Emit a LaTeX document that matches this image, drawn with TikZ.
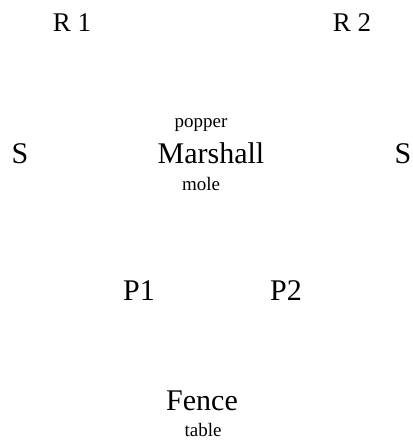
\documentclass[tikz,border=0pt]{standalone}
\usepackage{fontspec}
\setmainfont{Liberation Serif}
\begin{document}
\begin{tikzpicture}[x=1pt,y=-1pt,
  big/.style={inner sep=0pt,anchor=base,font=\fontsize{30}{33}\selectfont},
  rlab/.style={inner sep=0pt,anchor=base,font=\fontsize{27}{30}\selectfont},
  small/.style={inner sep=0pt,anchor=base,font=\fontsize{19}{21}\selectfont}]
\useasboundingbox (0,0) rectangle (413,440);
\node[rlab] (r1) at (72,31) {R 1};
\node[rlab] (r2) at (352,31) {R 2};
\node[small] (popper) at (201,127) {popper};
\node[big] (sl) at (20,163) {S};
\node[big] (marshall) at (211,163) {Marshall};
\node[big] (sr) at (403,163) {S};
\node[small] (mole) at (201,190) {mole};
\node[big] (p1) at (139,300) {P1};
\node[big] (p2) at (286,300) {P2};
\node[big] (fence) at (202,410) {Fence};
\node[small] (table) at (203,436) {table};
\end{tikzpicture}
\end{document}
